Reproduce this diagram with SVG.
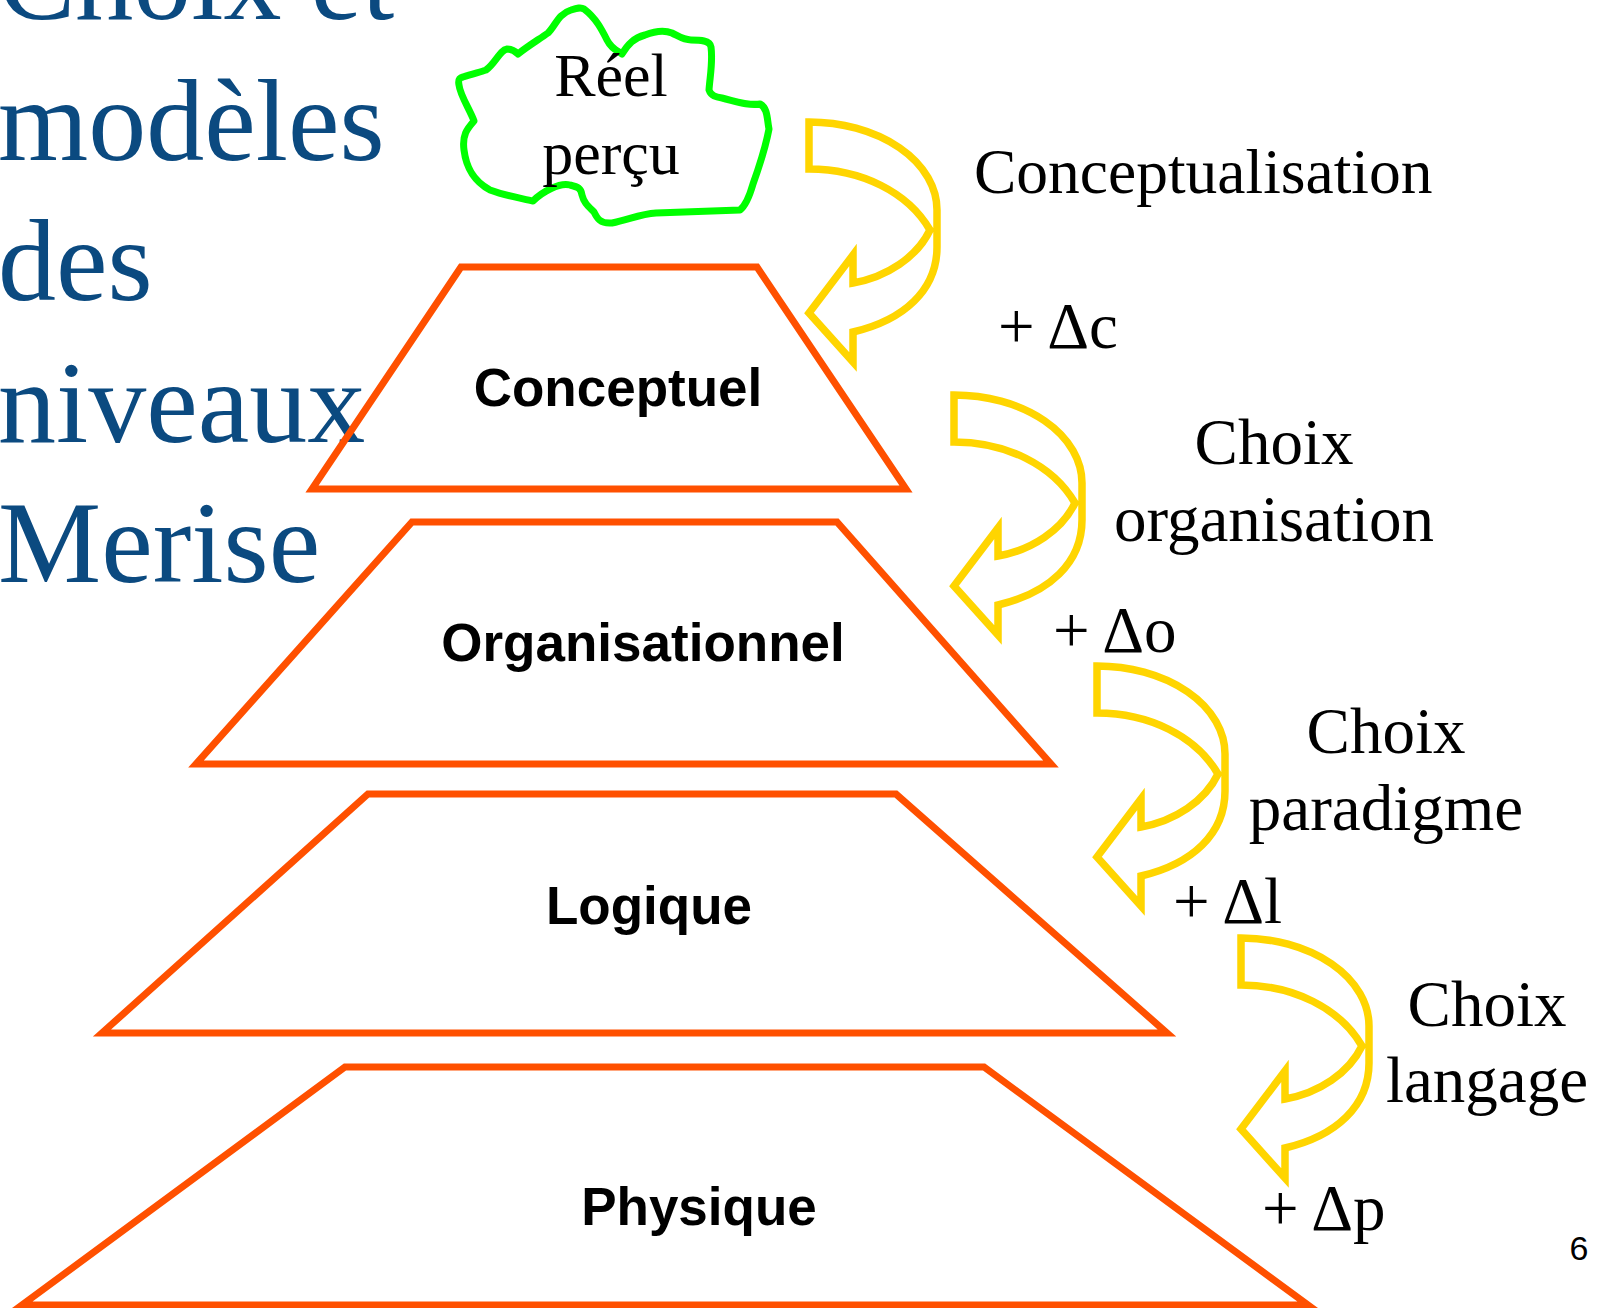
<svg xmlns="http://www.w3.org/2000/svg" xmlns:xlink="http://www.w3.org/1999/xlink" width="1604" height="1308" viewBox="0 0 1604 1308">
  <style>
    .title { font-family: "Liberation Serif", "Times New Roman", serif; font-size: 116px; fill: #0B4A80; }
    .level { fill: none; stroke: #FF5000; stroke-width: 7; stroke-linejoin: miter; }
    .level-label { font-family: "Liberation Sans", Arial, sans-serif; font-weight: bold; font-size: 53px; fill: #000; text-anchor: middle; }
    .note { font-family: "Liberation Serif", "Times New Roman", serif; font-size: 65px; fill: #000; }
    .cloud-label { font-size: 62px; }
    .long { font-size: 63.5px; }
    .mid { text-anchor: middle; }
    .curl { fill: none; stroke: #FFD500; stroke-width: 7.5; stroke-linejoin: miter; }
    .cloud { fill: none; stroke: #00FF00; stroke-width: 7; stroke-linejoin: round; }
  </style>
  <defs>
    <!-- curved step arrow, tail at the top-left, head pointing left at the bottom -->
    <path id="curl" class="curl" d="M0,0 A128,88 0 0 1 128,88 L128,125 C128,168 95,198 44,210 L44,240 L0,191 L44,133 L44,161 C78,155 108,135 121,108 C99,70 52,47 0,47 Z"/>
  </defs>

  <rect width="1604" height="1308" fill="#FFFFFF"/>

  <!-- slide title -->
  <g id="title">
    <text class="title" x="-2" y="19">Choix et</text>
    <text class="title" x="-2" y="160">modèles</text>
    <text class="title" x="-2" y="300">des</text>
    <text class="title" x="-2" y="442">niveaux</text>
    <text class="title" x="-2" y="582">Merise</text>
  </g>

  <!-- perceived reality -->
  <g id="reel">
    <path class="cloud" d="M584,9 C596,18 602,30 607,40 C611,48 616,50 622,54 C628,44 634,38 645,35 C655,31 665,30 672,33 C680,37 684,40 691,40 C700,40 710,40 711,47 C713,62 710,76 709,90 C711,96 716,97 722,98 C735,101 748,106 760,104 C768,108 767,120 769,129 C765,150 758,170 753,184 C749,198 745,206 740,210 L656,213 C640,214 628,220 612,223 C600,224 597,218 594,212 C588,206 584,203 582,195 C581,188 578,187 570,185 C560,182 542,192 533,201 C520,198 506,196 490,190 C472,180 466,166 464,150 C462,135 467,129 474,121 C470,110 460,95 459,85 C458,80 459,78 463,77 C472,74 480,72 486,70 C495,64 500,50 507,49 C513,49 516,52 518,54 C528,46 538,40 548,33 C556,25 558,14 571,10 C577,8 581,7 584,9 Z"/>
    <text class="note cloud-label mid" x="611" y="96">Réel</text>
    <text class="note cloud-label mid" x="611" y="174">perçu</text>
  </g>

  <!-- modelling levels -->
  <g id="conceptuel">
    <polygon class="level" points="461,267 757,267 906,489 312,489"/>
    <text class="level-label" x="618" y="406">Conceptuel</text>
  </g>
  <g id="organisationnel">
    <polygon class="level" points="412,522 837,522 1051,764 196,764"/>
    <text class="level-label" x="643" y="661">Organisationnel</text>
  </g>
  <g id="logique">
    <polygon class="level" points="368,794 896,794 1167,1033 102,1033"/>
    <text class="level-label" x="649" y="924">Logique</text>
  </g>
  <g id="physique">
    <polygon class="level" points="345,1067 984,1067 1308,1305 22,1305"/>
    <text class="level-label" x="699" y="1225">Physique</text>
  </g>

  <!-- transitions between levels -->
  <g id="connectors">
    <use xlink:href="#curl" transform="translate(809,122)"/>
    <use xlink:href="#curl" transform="translate(954,395)"/>
    <use xlink:href="#curl" transform="translate(1097,666)"/>
    <use xlink:href="#curl" transform="translate(1241,938)"/>
  </g>

  <!-- transition labels -->
  <g id="labels">
    <text class="note long" x="974" y="193">Conceptualisation</text>
    <text class="note" x="998" y="348">+ Δc</text>
    <text class="note mid" x="1274" y="464">Choix</text>
    <text class="note mid" x="1274" y="541">organisation</text>
    <text class="note" x="1053" y="652">+ Δo</text>
    <text class="note mid" x="1386" y="753">Choix</text>
    <text class="note mid" x="1386" y="830">paradigme</text>
    <text class="note" x="1173" y="923">+ Δl</text>
    <text class="note mid" x="1487" y="1026">Choix</text>
    <text class="note mid" x="1487" y="1102">langage</text>
    <text class="note" x="1262" y="1230">+ Δp</text>
  </g>

  <text x="1579" y="1260" font-family="Liberation Sans, Arial, sans-serif" font-size="34" text-anchor="middle">6</text>
</svg>
